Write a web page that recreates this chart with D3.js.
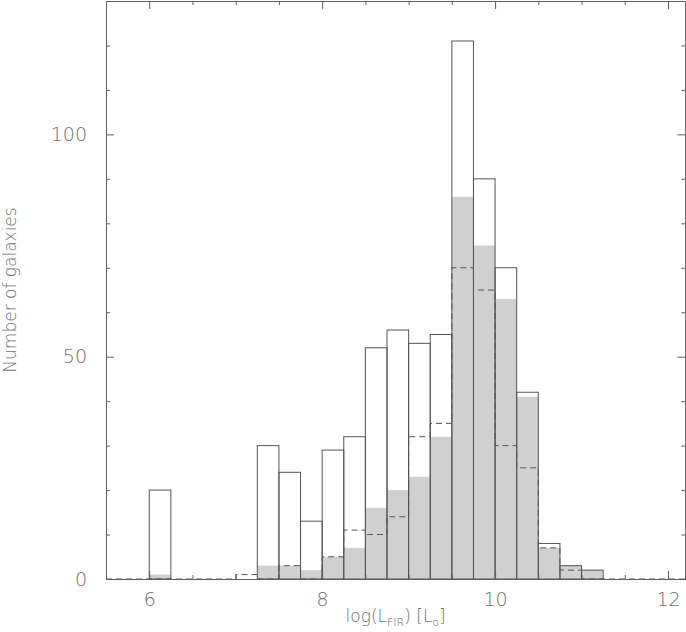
<!DOCTYPE html>
<html>
<head>
<meta charset="utf-8">
<script src="https://cdn.jsdelivr.net/npm/d3@7"></script>
<style>
  body { margin: 0; background: #fff; }
  svg { display: block; }
  .tick text { font-family: "DejaVu Sans", sans-serif; font-weight: 200; fill: #6e6e6e; }
</style>
</head>
<body>
<svg id="chart"></svg>
<script>
// histogram bins: start of each bin, width 0.25 in log(L_FIR)
const binStarts = [6.0, 6.25, 6.5, 6.75, 7.0, 7.25, 7.5, 7.75, 8.0, 8.25, 8.5,
                   8.75, 9.0, 9.25, 9.5, 9.75, 10.0, 10.25, 10.5, 10.75, 11.0];
const binWidth = 0.25;
// full sample (solid outline)
const totalCounts = [20, 0, 0, 0, 0, 30, 24, 13, 29, 32, 52,
                     56, 53, 55, 121, 90, 70, 42, 8, 3, 2];
// grey filled subsample
const greyCounts = [1, 0, 0, 0, 0, 3, 3, 2, 5, 7, 16,
                    20, 23, 32, 86, 75, 63, 41, 7, 3, 2];
// dashed subsample
const dashCounts = [0, 0, 0, 0, 1, 0, 3, 0, 5, 11, 10,
                    14, 32, 35, 70, 65, 30, 25, 7, 2, 0];

const xTicks = [6, 8, 10, 12];
const yTicks = [0, 50, 100];

const width = 686, height = 632;
const svg = d3.select("#chart").attr("width", width).attr("height", height);

const x = d3.scaleLinear().domain([5.5, 12.2]).range([106, 685.3]);
const y = d3.scaleLinear().domain([0, 130]).range([579, 1]);

const axisColor = "#606060";
const textColor = "#6e6e6e";

// grey histogram
svg.append("g")
  .selectAll("rect")
  .data(binStarts.map((b, i) => ({b, v: greyCounts[i]})).filter(d => d.v > 0))
  .join("rect")
    .attr("x", d => x(d.b))
    .attr("y", d => y(d.v))
    .attr("width", d => x(d.b + binWidth) - x(d.b))
    .attr("height", d => y(0) - y(d.v))
    .attr("fill", "#d0d0d0");

// dashed histogram as a step line
const dashPts = [[5.5, 0]]
  .concat(binStarts.map((b, i) => [b, dashCounts[i]]))
  .concat([[binStarts[binStarts.length - 1] + binWidth, 0], [12.2, 0]]);

svg.append("path")
  .datum(dashPts)
  .attr("fill", "none")
  .attr("stroke", "#555")
  .attr("stroke-width", 1)
  .attr("stroke-dasharray", "6,4")
  .attr("d", d3.line().x(d => x(d[0])).y(d => y(d[1])).curve(d3.curveStepAfter));

// outline histogram
svg.append("g")
  .selectAll("rect")
  .data(binStarts.map((b, i) => ({b, v: totalCounts[i]})).filter(d => d.v > 0))
  .join("rect")
    .attr("x", d => x(d.b))
    .attr("y", d => y(d.v))
    .attr("width", d => x(d.b + binWidth) - x(d.b))
    .attr("height", d => y(0) - y(d.v))
    .attr("fill", "none")
    .attr("stroke", "#555")
    .attr("stroke-width", 1);

// axes: major + minor ticks pointing inward on all four sides
const xMinor = d3.range(5.5, 12.21, 0.5).filter(v => !xTicks.includes(v));
const yMinor = d3.range(0, 131, 10).filter(v => !yTicks.includes(v));

function styleAxis(g) {
  g.select(".domain").attr("stroke", axisColor);
  g.selectAll(".tick line").attr("stroke", axisColor);
}

svg.append("g")
  .attr("transform", `translate(0,${y(0)})`)
  .call(d3.axisBottom(x).tickValues(xTicks).tickSizeInner(-8).tickSizeOuter(0)
    .tickPadding(14).tickFormat(d3.format("d")))
  .call(styleAxis)
  .call(g => g.selectAll("text").attr("font-size", 19));
svg.append("g")
  .attr("transform", `translate(0,${y(0)})`)
  .call(d3.axisBottom(x).tickValues(xMinor).tickSizeInner(-4).tickSizeOuter(0).tickFormat(""))
  .call(styleAxis);

svg.append("g")
  .attr("transform", `translate(0,${y(130)})`)
  .call(d3.axisTop(x).tickValues(xTicks).tickSizeInner(-8).tickSizeOuter(0).tickFormat(""))
  .call(styleAxis);
svg.append("g")
  .attr("transform", `translate(0,${y(130)})`)
  .call(d3.axisTop(x).tickValues(xMinor).tickSizeInner(-4).tickSizeOuter(0).tickFormat(""))
  .call(styleAxis);

svg.append("g")
  .attr("transform", `translate(${x(5.5)},0)`)
  .call(d3.axisLeft(y).tickValues(yTicks).tickSizeInner(-8).tickSizeOuter(0)
    .tickPadding(19).tickFormat(d3.format("d")))
  .call(styleAxis)
  .call(g => g.selectAll("text").attr("font-size", 19));
svg.append("g")
  .attr("transform", `translate(${x(5.5)},0)`)
  .call(d3.axisLeft(y).tickValues(yMinor).tickSizeInner(-4).tickSizeOuter(0).tickFormat(""))
  .call(styleAxis);

svg.append("g")
  .attr("transform", `translate(${x(12.2)},0)`)
  .call(d3.axisRight(y).tickValues(yTicks).tickSizeInner(-8).tickSizeOuter(0).tickFormat(""))
  .call(styleAxis);
svg.append("g")
  .attr("transform", `translate(${x(12.2)},0)`)
  .call(d3.axisRight(y).tickValues(yMinor).tickSizeInner(-4).tickSizeOuter(0).tickFormat(""))
  .call(styleAxis);

// axis titles
const xTitle = svg.append("text")
  .attr("x", (x.range()[0] + x.range()[1]) / 2)
  .attr("y", 622)
  .attr("text-anchor", "middle")
  .attr("font-family", "DejaVu Sans, sans-serif")
  .attr("font-weight", 200)
  .attr("font-size", 17)
  .attr("fill", textColor);
xTitle.append("tspan").text("log(L");
xTitle.append("tspan").attr("font-size", 11).attr("dy", 4).text("FIR");
xTitle.append("tspan").attr("dy", -4).text(")  [L");
xTitle.append("tspan").attr("font-size", 11).attr("dy", 4).text("o");
xTitle.append("tspan").attr("dy", -4).text("]");

svg.append("text")
  .attr("transform", `translate(16,${(y(0) + y(130)) / 2}) rotate(-90)`)
  .attr("text-anchor", "middle")
  .attr("font-family", "DejaVu Sans, sans-serif")
  .attr("font-weight", 200)
  .attr("font-size", 17)
  .attr("fill", textColor)
  .text("Number of galaxies");
</script>
</body>
</html>
